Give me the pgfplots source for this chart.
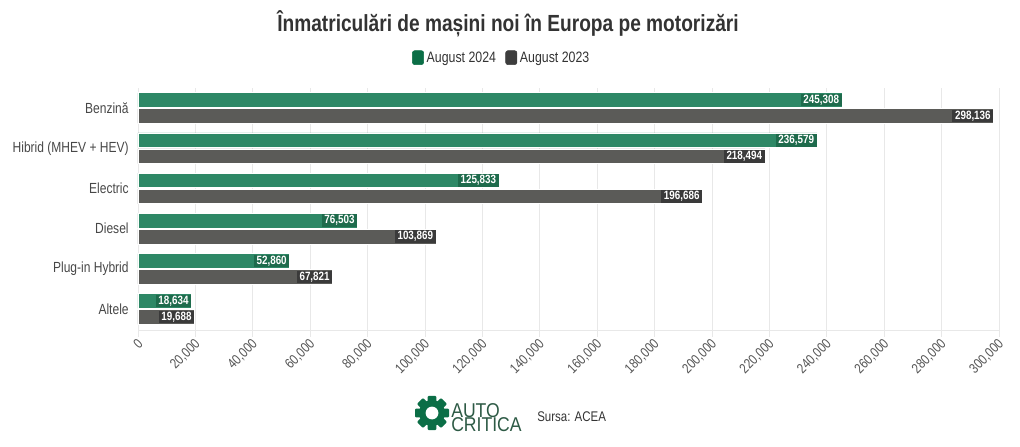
\documentclass[border=0pt]{standalone}
\usepackage{pgfplots}
\pgfplotsset{compat=1.18}
\usepackage{fontspec}
\setmainfont{Liberation Sans}[FakeStretch=0.82]
\newfontfamily\logofont{Liberation Sans}[FakeStretch=0.88]
\definecolor{gbar}{HTML}{2E8866}
\definecolor{glab}{HTML}{1E6B4C}
\definecolor{kbar}{HTML}{5B5B58}
\definecolor{klab}{HTML}{3A3A3A}
\definecolor{gleg}{HTML}{0B6E46}
\definecolor{kleg}{HTML}{3D3D3D}
\definecolor{txt}{HTML}{333333}
\definecolor{ticktxt}{HTML}{555555}
\definecolor{gridc}{HTML}{E8E8E8}
\definecolor{logotxt}{HTML}{2D5A45}
\begin{document}
\begin{tikzpicture}
\useasboundingbox (0,0) rectangle (765pt,334.5pt);
\node[font=\bfseries\fontsize{17.5}{20}\selectfont, text=txt] at (381pt,316.5pt) {Înmatriculări de mașini noi în Europa pe motorizări};
\begin{axis}[
  at={(103.5pt,87pt)}, anchor=south west,
  scale only axis, width=645.75pt, height=181.5pt,
  xmin=0, xmax=300000, ymin=-0.52, ymax=5.5,
  xtick={0,20000,40000,60000,80000,100000,120000,140000,160000,180000,200000,220000,240000,260000,280000,300000},
  xticklabels={0,{20,000},{40,000},{60,000},{80,000},{100,000},{120,000},{140,000},{160,000},{180,000},{200,000},{220,000},{240,000},{260,000},{280,000},{300,000}},
  ytick={0,1,2,3,4,5},
  yticklabels={Altele, Plug-in Hybrid, Diesel, Electric, Hibrid (MHEV + HEV), Benzină},
  scaled x ticks=false,
  axis x line*=bottom, axis y line*=left,
  x axis line style={draw=gridc, -},
  y axis line style={draw=none},
  xmajorgrids, grid style={draw=gridc, line width=0.6pt},
  tick align=outside, major tick length=5pt,
  xtick style={draw=gridc, line width=0.6pt},
  ytick style={draw=none},
  xticklabel style={rotate=45, anchor=east, font=\fontsize{10.5}{12}\selectfont, text=ticktxt, yshift=-4pt, xshift=2pt},
  yticklabel style={font=\fontsize{11}{13}\selectfont, text=txt!90, xshift=1.5pt},
  legend style={at={(0.4228,1.124)}, anchor=center, draw=none, fill=none, font=\fontsize{11.3}{13}\selectfont, text=txt},
  legend columns=2,
  legend style={/tikz/every even column/.append style={column sep=5pt}},
  clip=false,
]
\addlegendimage{legend image code/.code={\fill[gleg, rounded corners=1.8pt] (0pt,-5pt) rectangle (8.5pt,5.5pt);}}
\addlegendentry{August 2024}
\addlegendimage{legend image code/.code={\fill[kleg, rounded corners=1.8pt] (0pt,-5pt) rectangle (8.5pt,5.5pt);}}
\addlegendentry{August 2023}
\addplot[xbar, bar width=11pt, bar shift=6pt, fill=gbar, draw=white, line width=0.5pt, forget plot,
  point meta=explicit symbolic, nodes near coords,
  nodes near coords style={anchor=east, yshift=6pt, fill=glab, text=white, font=\bfseries\fontsize{9}{10}\selectfont, inner xsep=2pt, inner ysep=0pt, minimum height=9.5pt}]
  coordinates {(245308,5) [245{,}308] (236579,4) [236{,}579] (125833,3) [125{,}833] (76503,2) [76{,}503] (52860,1) [52{,}860] (18634,0) [18{,}634]};
\addplot[xbar, bar width=11pt, bar shift=-6pt, fill=kbar, draw=white, line width=0.5pt, forget plot,
  point meta=explicit symbolic, nodes near coords,
  nodes near coords style={anchor=east, yshift=-6pt, fill=klab, text=white, font=\bfseries\fontsize{9}{10}\selectfont, inner xsep=2pt, inner ysep=0pt, minimum height=9.5pt}]
  coordinates {(298136,5) [298{,}136] (218494,4) [218{,}494] (196686,3) [196{,}686] (103869,2) [103{,}869] (67821,1) [67{,}821] (19688,0) [19{,}688]};
\end{axis}
\begin{scope}[shift={(324pt,24.75pt)}]
  \fill[gleg] (0,0) circle (9.75pt);
  \foreach \a in {0,45,...,315} {\fill[gleg, rotate=\a, rounded corners=0.8pt] (7.5pt,-3.3pt) rectangle (12.75pt,3.3pt);}
  \fill[white] (0,0) circle (4.8pt);
\end{scope}
\node[anchor=base west, inner sep=0pt, font=\logofont\fontsize{15}{16}\selectfont, text=logotxt] at (338.25pt,21.75pt) {AUTO};
\node[anchor=base west, inner sep=0pt, font=\logofont\fontsize{15}{16}\selectfont, text=logotxt] at (338.25pt,11.25pt) {CRITICA};
\node[anchor=base west, inner sep=0pt, font=\fontsize{10.5}{12}\selectfont, text=txt] at (402.75pt,18.75pt) {Sursa: ACEA};
\end{tikzpicture}
\end{document}
